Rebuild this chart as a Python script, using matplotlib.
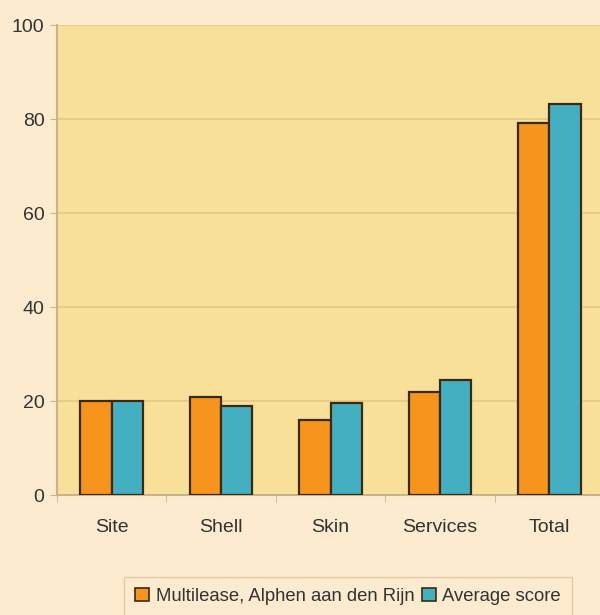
import matplotlib
matplotlib.use("Agg")
import matplotlib.pyplot as plt
import numpy as np
from matplotlib.patches import Patch

categories = ["Site", "Shell", "Skin", "Services", "Total"]
multilease = [20.0, 20.8, 16.0, 22.0, 79.1]
average = [20.0, 18.9, 19.6, 24.5, 83.2]
series_names = ["Multilease, Alphen aan den Rijn", "Average score"]
yticks = [0, 20, 40, 60, 80, 100]

plt.rcParams["font.family"] = ["Liberation Sans", "DejaVu Sans"]

fig_bg = "#FDEBCF"
plot_bg = "#F8E09B"
orange = "#F7941E"
teal = "#45AFC2"
edge = "#3B2A12"
grid_c = "#E6CC86"
text_c = "#333333"

fig = plt.figure(figsize=(6.0, 6.15), dpi=100, facecolor=fig_bg)
ax = fig.add_axes([0.095, 0.195, 0.912, 0.764])
ax.set_facecolor(plot_bg)

x = np.arange(len(categories))
w = 1.0 / 3.5
ax.bar(x - w / 2, multilease, width=w, color=orange, edgecolor=edge, linewidth=1.6, zorder=3)
ax.bar(x + w / 2, average, width=w, color=teal, edgecolor=edge, linewidth=1.6, zorder=3)

ax.set_xlim(-0.5, len(categories) - 0.5)
ax.set_ylim(0, 100)
ax.set_yticks(yticks)
ax.set_yticklabels([str(v) for v in yticks], fontsize=14, color=text_c)
ax.set_xticks(x)
ax.set_xticklabels(categories, fontsize=14, color=text_c)
ax.set_xticks(np.arange(len(categories) + 1) - 0.5, minor=True)
ax.tick_params(axis="x", which="major", length=0, pad=17)
ax.tick_params(axis="x", which="minor", length=5, color="#C9B48A", direction="out")
ax.tick_params(axis="y", length=5, color="#C9B48A", direction="out", pad=4)

ax.yaxis.grid(True, color=grid_c, linewidth=1.4, zorder=0)
ax.set_axisbelow(True)
for side in ["top", "right"]:
    ax.spines[side].set_visible(False)
ax.spines["left"].set_color("#C9B48A")
ax.spines["left"].set_linewidth(1.5)
ax.spines["bottom"].set_color("#C9B48A")
ax.spines["bottom"].set_linewidth(1.5)

handles = [Patch(facecolor=orange, edgecolor=edge, linewidth=1.2),
           Patch(facecolor=teal, edgecolor=edge, linewidth=1.2)]
leg = fig.legend(handles, series_names, loc="upper center", bbox_to_anchor=(0.58, 0.062),
                 ncol=2, frameon=True, fontsize=13.3, handlelength=0.75, handleheight=0.75,
                 handletextpad=0.35, columnspacing=0.4, borderpad=0.6, fancybox=False,
                 borderaxespad=0.0)
leg.get_frame().set_facecolor(fig_bg)
leg.get_frame().set_edgecolor("#D9C49A")
for t in leg.get_texts():
    t.set_color(text_c)

fig.savefig("out.png", dpi=100, facecolor=fig_bg)
